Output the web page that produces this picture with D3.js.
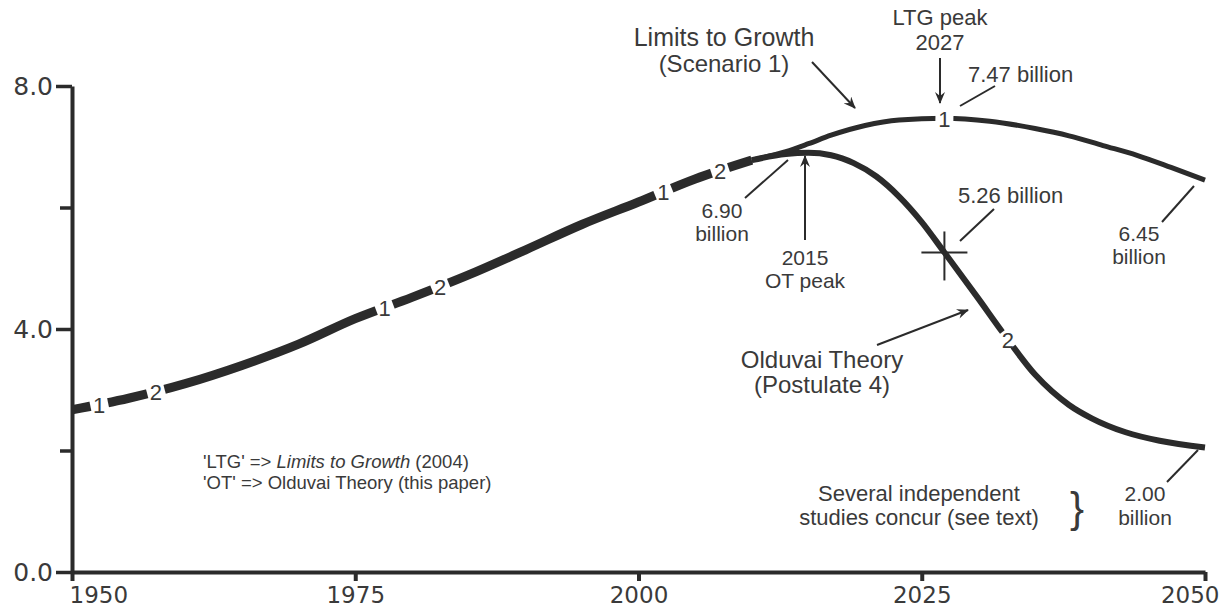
<!DOCTYPE html>
<html>
<head>
<meta charset="utf-8">
<script src="https://cdn.jsdelivr.net/npm/d3@7"></script>
<style>
  html, body { margin: 0; padding: 0; background: #ffffff; }
  svg { display: block; }
  .ann { font-family: "Liberation Sans", Arial, sans-serif; fill: #3a3a3a; }
  .axis text { font-family: "DejaVu Sans", sans-serif; fill: #3a3a3a; }
</style>
</head>
<body>
<svg id="chart" width="1221" height="608"></svg>
<script>
// ---------------- data ----------------
const xTickYears = [1950, 1975, 2000, 2025, 2050];
const yTickValues = [0, 2, 4, 6, 8];
const yTickLabels = ["0.0", "", "4.0", "", "8.0"];

// shared historical population (billions)
const histYears = [1950, 1955, 1960, 1965, 1970, 1975, 1980, 1985, 1990, 1995, 2000, 2005, 2010];
const histPop   = [2.67, 2.86, 3.10, 3.40, 3.75, 4.17, 4.52, 4.89, 5.30, 5.72, 6.09, 6.47, 6.78];

// Limits to Growth (Scenario 1) projection
const ltgYears = [2010, 2013, 2015, 2017, 2020, 2023, 2027, 2031, 2035, 2038, 2041, 2044, 2047, 2050];
const ltgPop   = [6.78, 6.92, 7.05, 7.19, 7.35, 7.44, 7.47, 7.42, 7.30, 7.18, 7.02, 6.86, 6.66, 6.45];

// Olduvai Theory (Postulate 4) projection
const otYears = [2010, 2013, 2015, 2017, 2019, 2021, 2023, 2025, 2027, 2030, 2032, 2035, 2038, 2040, 2043, 2046, 2050];
const otPop   = [6.78, 6.88, 6.90, 6.86, 6.73, 6.51, 6.18, 5.76, 5.26, 4.50, 3.98, 3.25, 2.75, 2.53, 2.30, 2.16, 2.05];

// curve identification marks
const ltgMarkYears = [1952.4, 1977.6, 2002.2, 2027];
const otMarkYears  = [1957.4, 1982.5, 2007.2, 2032.6];

// ---------------- scales ----------------
const svg = d3.select("#chart");
const x = d3.scaleLinear().domain([1950, 2050]).range([72, 1205]);
const y = d3.scaleLinear().domain([0, 8]).range([572, 86]);
const ink = "#2b2b2b";

// ---------------- axes ----------------
const xAxis = svg.append("g").attr("class", "axis")
  .attr("transform", `translate(0,${y(0)})`)
  .call(d3.axisBottom(x).tickValues(xTickYears).tickFormat(d3.format("d"))
        .tickSize(9).tickSizeOuter(0).tickPadding(6));
xAxis.select(".domain").attr("stroke", ink).attr("stroke-width", 4);
xAxis.selectAll(".tick line").attr("stroke", ink).attr("stroke-width", 4);
xAxis.selectAll(".tick text").attr("font-size", 23);
xAxis.selectAll(".tick").filter(d => d === 1950).select("text").attr("text-anchor", "start").attr("x", -3);
xAxis.selectAll(".tick").filter(d => d === 2050).select("text").attr("text-anchor", "end").attr("x", 14);

const yAxis = svg.append("g").attr("class", "axis")
  .attr("transform", `translate(${x(1950)},0)`)
  .call(d3.axisLeft(y).tickValues(yTickValues)
        .tickFormat((d, i) => yTickLabels[i])
        .tickSize(16).tickSizeOuter(0).tickPadding(3));
yAxis.select(".domain").attr("stroke", ink).attr("stroke-width", 4);
yAxis.selectAll(".tick line").attr("stroke", ink).attr("stroke-width", 3.5)
  .attr("x2", (d, i) => yTickLabels[i] === "" ? -12 : -16);
yAxis.selectAll(".tick text").attr("font-size", 25);

// ---------------- lines ----------------
const line = d3.line().x(d => x(d[0])).y(d => y(d[1])).curve(d3.curveMonotoneX);
const histData = histYears.map((yr, i) => [yr, histPop[i]]);
const ltgData = ltgYears.map((yr, i) => [yr, ltgPop[i]]);
const otData = otYears.map((yr, i) => [yr, otPop[i]]);

svg.append("path").datum(otData).attr("d", line)
  .attr("fill", "none").attr("stroke", ink).attr("stroke-width", 6);
svg.append("path").datum(ltgData).attr("d", line)
  .attr("fill", "none").attr("stroke", ink).attr("stroke-width", 5);
svg.append("path").datum(histData).attr("d", line)
  .attr("fill", "none").attr("stroke", ink).attr("stroke-width", 9);

// ---------------- curve marks "1" / "2" ----------------
const histInterp = d3.scaleLinear().domain(histYears).range(histPop);
const ltgInterp = d3.scaleLinear().domain(ltgYears).range(ltgPop);
const otInterp = d3.scaleLinear().domain(otYears).range(otPop);
function valueAt(yr, series) {
  if (yr <= 2010) return histInterp(yr);
  return series === 1 ? ltgInterp(yr) : otInterp(yr);
}
const marks = ltgMarkYears.map(yr => ({ yr, s: 1 }))
  .concat(otMarkYears.map(yr => ({ yr, s: 2 })));
marks.forEach(m => {
  const px = x(m.yr), py = y(valueAt(m.yr, m.s));
  const dx = x(m.yr + 0.5) - x(m.yr - 0.5);
  const dy = y(valueAt(m.yr + 0.5, m.s)) - y(valueAt(m.yr - 0.5, m.s));
  const ang = Math.atan2(dy, dx) * 180 / Math.PI;
  svg.append("rect")
    .attr("x", -9).attr("y", -12).attr("width", 18).attr("height", 24)
    .attr("fill", "#ffffff")
    .attr("transform", `translate(${px},${py}) rotate(${ang})`);
  svg.append("text").attr("class", "ann")
    .attr("x", px).attr("y", py + 1)
    .attr("text-anchor", "middle").attr("dominant-baseline", "central")
    .attr("font-size", 22).text(m.s);
});

// ---------------- annotations ----------------
const defs = svg.append("defs");
defs.append("marker").attr("id", "arr")
  .attr("viewBox", "0 0 12 10").attr("refX", 11).attr("refY", 5)
  .attr("markerWidth", 12).attr("markerHeight", 10)
  .attr("markerUnits", "userSpaceOnUse").attr("orient", "auto")
  .append("path").attr("d", "M0,0 L12,5 L0,10 L4,5 Z").attr("fill", ink);

function txt(str, px, py, size, anchor) {
  return svg.append("text").attr("class", "ann").attr("x", px).attr("y", py)
    .attr("font-size", size).attr("text-anchor", anchor || "middle").text(str);
}
function seg(x1, y1, x2, y2, arrow) {
  const l = svg.append("line").attr("x1", x1).attr("y1", y1).attr("x2", x2).attr("y2", y2)
    .attr("stroke", ink).attr("stroke-width", 2);
  if (arrow) l.attr("marker-end", "url(#arr)");
  return l;
}

// Limits to Growth title
txt("Limits to Growth", 724, 46, 25);
txt("(Scenario 1)", 724, 72, 24);
seg(812, 62, 855, 108, true);

// LTG peak
txt("LTG peak", 940, 25, 22);
txt("2027", 940, 50, 22);
seg(940, 58, 940, 103, true);
txt("7.47 billion", 968, 82, 22, "start");
seg(995, 86, 960, 106, false);

// OT peak
txt("6.90", 722, 218, 21);
txt("billion", 722, 241, 21);
seg(745, 198, 788, 160, false);
txt("2015", 805, 265, 21);
txt("OT peak", 805, 288, 21);
seg(805, 240, 805, 156, true);

// 5.26 cross
const cx = x(2027), cy = y(5.26);
seg(cx - 23, cy, cx + 23, cy, false);
seg(cx, cy - 21, cx, cy + 28, false);
txt("5.26 billion", 958, 203, 22, "start");
seg(994, 209, 960, 241, false);

// 6.45 end
txt("6.45", 1139, 241, 21);
txt("billion", 1139, 264, 21);
seg(1194, 186, 1162, 222, false);

// Olduvai title
txt("Olduvai Theory", 822, 368, 24);
txt("(Postulate 4)", 822, 393, 24);
seg(877, 345, 968, 310, true);

// Several studies
txt("Several independent", 919, 501, 22);
txt("studies concur (see text)", 919, 525, 22);
svg.append("text").attr("class", "ann").attr("x", 1077).attr("y", 522)
  .attr("font-size", 42).attr("text-anchor", "middle").text("}");
txt("2.00", 1145, 501, 21);
txt("billion", 1145, 525, 21);
seg(1167, 482, 1198, 450, false);

// legend
const leg1 = svg.append("text").attr("class", "ann").attr("x", 203).attr("y", 468).attr("font-size", 18.5);
leg1.append("tspan").text("'LTG' => ");
leg1.append("tspan").attr("font-style", "italic").text("Limits to Growth");
leg1.append("tspan").text(" (2004)");
txt("'OT' => Olduvai Theory (this paper)", 203, 489, 18.5, "start");
</script>
</body>
</html>
